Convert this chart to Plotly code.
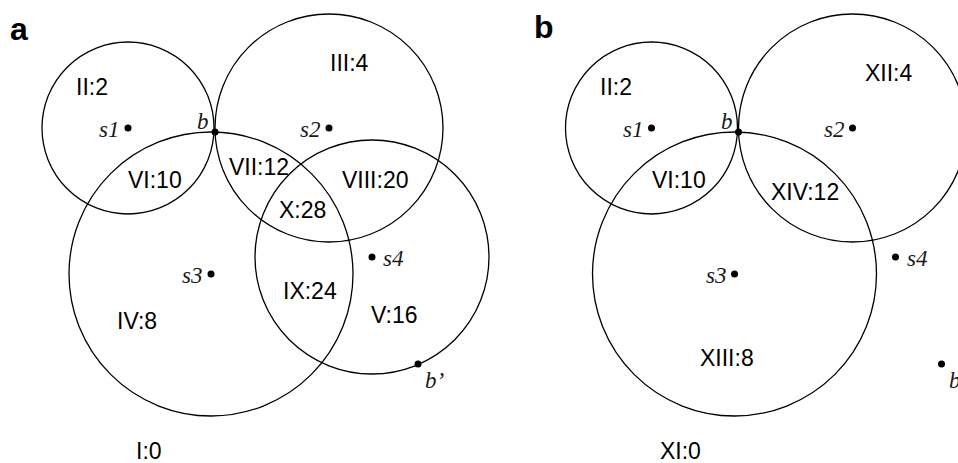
import plotly.graph_objects as go

# ---- data (pixel-like diagram coordinates, panel-local) ----
sensor_names = ["s1", "s2", "s3", "s4"]
sensor_x = [128, 329, 211, 372]
sensor_y = [128, 128, 274, 257]
sensor_r = [86, 114, 142, 117]

boundary_names = ["b", "b’"]
boundary_x = [215, 418]
boundary_y = [132, 364]

panel_b_offset = 523.5
panel_b_circles = ["s1", "s2", "s3"]

regions_a = ["I:0", "II:2", "III:4", "IV:8", "V:16", "VI:10", "VII:12", "VIII:20", "IX:24", "X:28"]
regions_a_x = [149, 92, 349, 137, 394, 155, 259, 375, 310, 302]
regions_a_y = [451, 87, 63, 321, 315, 180, 167, 180, 291, 210]

regions_b = ["XI:0", "II:2", "XII:4", "XIII:8", "VI:10", "XIV:12"]
regions_b_x = [156.5, 92.5, 365.5, 203.5, 155.5, 281.5]
regions_b_y = [451, 87, 73, 358, 180, 192]

SANS = "Liberation Sans, Arial, sans-serif"
SERIF = "Liberation Serif, Times New Roman, serif"
LAB_SIZE = 23
IT_SIZE = 23

fig = go.Figure()
shapes = []
annotations = []


def add_panel(offset, circle_names, reg_names, reg_x, reg_y):
    for name, cx, cy, r in zip(sensor_names, sensor_x, sensor_y, sensor_r):
        if name in circle_names:
            shapes.append(dict(type="circle", xref="x", yref="y",
                               x0=cx + offset - r, x1=cx + offset + r,
                               y0=cy - r, y1=cy + r,
                               line=dict(color="black", width=1.3)))
    # dots
    fig.add_trace(go.Scatter(
        x=[v + offset for v in sensor_x + boundary_x],
        y=sensor_y + boundary_y,
        mode="markers", marker=dict(color="black", size=7),
        showlegend=False, hoverinfo="skip"))
    # sensor labels
    for name, cx, cy in zip(sensor_names, sensor_x, sensor_y):
        left = name == "s4"
        annotations.append(dict(
            x=cx + offset + (9 if left else -7), y=cy + 1, xref="x", yref="y",
            text=f"<i>{name}</i>", showarrow=False,
            xanchor="left" if left else "right", yanchor="middle",
            font=dict(family=SERIF, size=IT_SIZE, color="#1a1a1a")))
    # boundary labels
    annotations.append(dict(
        x=boundary_x[0] + offset - 12, y=boundary_y[0] - 11, xref="x", yref="y",
        text=f"<i>{boundary_names[0]}</i>", showarrow=False,
        xanchor="center", yanchor="middle",
        font=dict(family=SERIF, size=IT_SIZE, color="#1a1a1a")))
    annotations.append(dict(
        x=boundary_x[1] + offset + 5, y=boundary_y[1] + 16, xref="x", yref="y",
        text=f"<i>{boundary_names[1]}</i>", showarrow=False,
        xanchor="left", yanchor="middle",
        font=dict(family=SERIF, size=IT_SIZE, color="#1a1a1a")))
    # region labels
    for t, x, y in zip(reg_names, reg_x, reg_y):
        annotations.append(dict(
            x=x + offset, y=y, xref="x", yref="y", text=t, showarrow=False,
            xanchor="center", yanchor="middle",
            font=dict(family=SANS, size=LAB_SIZE, color="black")))


add_panel(0, sensor_names, regions_a, regions_a_x, regions_a_y)
add_panel(panel_b_offset, panel_b_circles, regions_b, regions_b_x, regions_b_y)

annotations.append(dict(x=19, y=29, xref="x", yref="y", text="<b>a</b>", showarrow=False,
                        xanchor="center", yanchor="middle",
                        font=dict(family=SANS, size=32, color="black")))
annotations.append(dict(x=544, y=27, xref="x", yref="y", text="<b>b</b>", showarrow=False,
                        xanchor="center", yanchor="middle",
                        font=dict(family=SANS, size=32, color="black")))

fig.update_layout(
    width=958, height=463,
    margin=dict(l=0, r=0, t=0, b=0),
    paper_bgcolor="white", plot_bgcolor="white",
    shapes=shapes, annotations=annotations,
    xaxis=dict(range=[0, 958], visible=False, fixedrange=True),
    yaxis=dict(range=[463, 0], visible=False, fixedrange=True),
)

fig.write_html("out.html")
